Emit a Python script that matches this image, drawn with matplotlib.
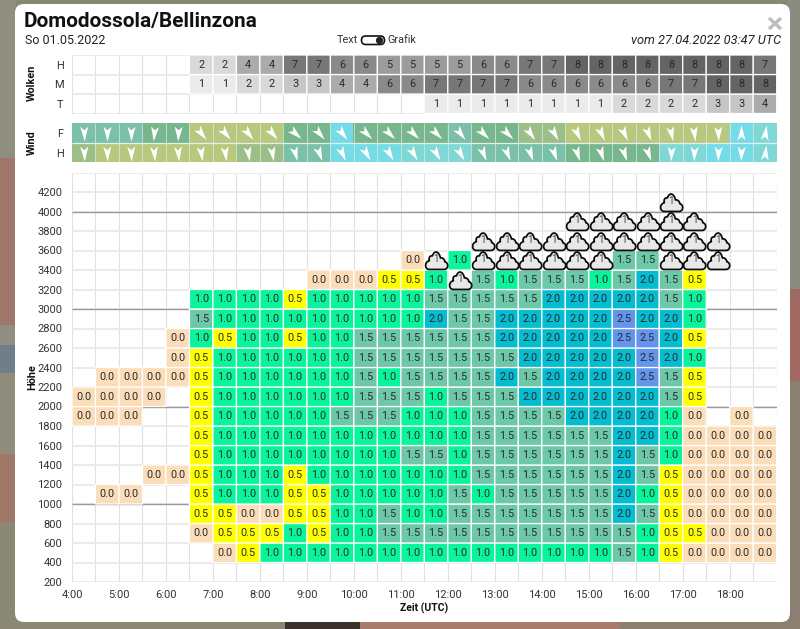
import numpy as np
import matplotlib
matplotlib.use("Agg")
import matplotlib.pyplot as plt
from matplotlib.colors import ListedColormap, BoundaryNorm
from matplotlib.markers import MarkerStyle
from matplotlib.patches import FancyBboxPatch, Rectangle
from matplotlib.path import Path
from matplotlib.lines import Line2D
from matplotlib.transforms import Affine2D

plt.rcParams['font.family'] = ['Roboto', 'DejaVu Sans']

B = np.nan   # empty cell
C = -1.0     # cloud symbol

hours = [f"{h}:00" for h in range(4, 19)]
heights = list(range(200, 4201, 200))

# thermal values: one list per height band, named by lower band edge, half-hour columns 4:00..18:30
h4000 = [B]*25 + [C] + [B]*4
h3800 = [B]*21 + [C]*6 + [B]*3
h3600 = [B]*17 + [C]*11 + [B]*2
h3400 = [B]*14 + [0.0, C, 1.0, C, C, C, C, C, C, 1.5, 1.5, C, C, C, B, B]
h3200 = [B]*10 + [0.0, 0.0, 0.0, 0.5, 0.5, 1.0, C, 1.5, 1.0, 1.5, 1.5, 1.5, 1.0, 1.5, 2.0, 1.5, 0.5, B, B, B]
h3000 = [B]*5 + [1.0, 1.0, 1.0, 1.0, 0.5, 1.0, 1.0, 1.0, 1.0, 1.0, 1.5, 1.5, 1.5, 1.5, 1.5, 2.0, 2.0, 2.0, 2.0, 2.0, 1.5, 1.0, B, B, B]
h2800 = [B]*5 + [1.5, 1.0, 1.0, 1.0, 1.0, 1.0, 1.0, 1.0, 1.0, 1.0, 2.0, 1.5, 1.5, 2.0, 2.0, 2.0, 2.0, 2.0, 2.5, 2.0, 2.0, 1.0, B, B, B]
h2600 = [B]*4 + [0.0, 1.0, 0.5, 1.0, 1.0, 0.5, 1.0, 1.0, 1.5, 1.5, 1.5, 1.5, 1.5, 1.5, 2.0, 2.0, 2.0, 2.0, 2.0, 2.5, 2.5, 2.0, 0.5, B, B, B]
h2400 = [B]*4 + [0.0, 0.5, 1.0, 1.0, 1.0, 1.0, 1.0, 1.0, 1.5, 1.5, 1.5, 1.5, 1.5, 1.5, 1.5, 2.0, 2.0, 2.0, 2.0, 2.0, 2.5, 2.0, 1.0, B, B, B]
h2200 = [B] + [0.0]*4 + [0.5, 1.0, 1.0, 1.0, 1.0, 1.0, 1.0, 1.5, 1.0, 1.5, 1.5, 1.5, 1.5, 2.0, 1.5, 2.0, 2.0, 2.0, 2.0, 2.5, 1.5, 0.5, B, B, B]
h2000 = [0.0]*4 + [B, 0.5, 1.0, 1.0, 1.0, 1.0, 1.0, 1.0, 1.5, 1.5, 1.5, 1.0, 1.5, 1.5, 1.5, 2.0, 2.0, 2.0, 2.0, 2.0, 2.0, 1.5, 0.5, B, B, B]
h1800 = [0.0]*3 + [B, B, 0.5, 1.0, 1.0, 1.0, 1.0, 1.0, 1.5, 1.5, 1.5, 1.0, 1.0, 1.0, 1.5, 1.5, 1.5, 1.5, 2.0, 2.0, 2.0, 2.0, 1.0, 0.0, B, 0.0, B]
h1600 = [B]*5 + [0.5, 1.0, 1.0, 1.0, 1.0, 1.0, 1.0, 1.0, 1.0, 1.0, 1.0, 1.0, 1.5, 1.5, 1.5, 1.5, 1.5, 1.5, 2.0, 2.0, 1.0, 0.0, 0.0, 0.0, 0.0]
h1400 = [B]*5 + [0.5, 1.0, 1.0, 1.0, 1.0, 1.0, 1.0, 1.0, 1.0, 1.5, 1.5, 1.0, 1.5, 1.5, 1.5, 1.5, 1.5, 1.5, 2.0, 1.5, 1.0, 0.0, 0.0, 0.0, 0.0]
h1200 = [B]*3 + [0.0, 0.0, 0.5, 1.0, 1.0, 1.0, 0.5, 1.0, 1.0, 1.0, 1.0, 1.0, 1.0, 1.0, 1.5, 1.5, 1.5, 1.5, 1.5, 1.5, 2.0, 1.5, 0.5, 0.0, 0.0, 0.0, 0.0]
h1000 = [B, 0.0, 0.0, B, B, 0.5, 1.0, 1.0, 1.0, 0.5, 0.5, 1.0, 1.0, 1.0, 1.0, 1.0, 1.5, 1.0, 1.5, 1.5, 1.5, 1.5, 1.5, 2.0, 1.0, 0.5, 0.0, 0.0, 0.0, 0.0]
h800 = [B]*5 + [0.5, 0.5, 0.0, 0.0, 0.5, 0.5, 1.0, 1.0, 1.5, 1.0, 1.0, 1.5, 1.5, 1.5, 1.5, 1.5, 1.5, 1.5, 2.0, 1.5, 0.5, 0.0, 0.0, 0.0, 0.0]
h600 = [B]*5 + [0.0, 0.5, 0.5, 0.5, 1.0, 0.5, 1.0, 1.0, 1.5, 1.5, 1.5, 1.5, 1.5, 1.5, 1.5, 1.5, 1.5, 1.5, 1.5, 1.0, 0.5, 0.5, 0.0, 0.0, 0.0]
h400 = [B]*6 + [0.0, 0.5] + [1.0]*15 + [1.5, 1.0, 0.5, 0.0, 0.0, 0.0, 0.0]

# cloud cover (octas)
cloud_h = [B]*5 + [2, 2, 4, 4, 7, 7, 6, 6, 5, 5, 5, 5, 6, 6, 7, 7, 8, 8, 8, 8, 8, 8, 8, 8, 7]
cloud_m = [B]*5 + [1, 1, 2, 2, 3, 3, 4, 4, 6, 6, 7, 7, 7, 7, 6, 6, 6, 6, 6, 6, 7, 7, 8, 8, 8]
cloud_t = [B]*15 + [1, 1, 1, 1, 1, 1, 1, 1, 2, 2, 2, 2, 3, 3, 4]

# wind: speed class and the bearing the arrow points to
wind_f_class = [2, 2, 2, 3, 3, 5, 5, 5, 5, 3, 3, 0, 3, 3, 3, 3, 2, 3, 3, 4, 4, 5, 5, 5, 5, 5, 5, 5, 0, 1]
wind_h_class = [4, 5, 5, 5, 5, 5, 5, 4, 4, 2, 2, 0, 0, 0, 1, 1, 1, 2, 2, 2, 2, 3, 3, 3, 3, 1, 1, 0, 0, 1]
wind_f_dir = [178, 180, 180, 185, 182, 142, 140, 142, 140, 132, 140, 142, 135, 135, 135, 135, 142, 135, 135, 145, 150, 155, 155, 155, 158, 168, 172, 178, 0, 8]
wind_h_dir = [178, 178, 178, 175, 175, 172, 172, 170, 170, 165, 160, 155, 150, 150, 150, 150, 150, 158, 158, 160, 160, 162, 162, 162, 160, 182, 182, 182, 182, 6]

value_colors = ['#fbddb9', '#ffff00', '#0af59b', '#6cc8a8', '#05bdd0', '#6495ed']
wind_colors = ['#75dbe6', '#7fd8d6', '#7bc0a8', '#78b68e', '#9cbf88', '#b8c97f']
gray_colors = ['#ebebeb', '#d9d9d9', '#c6c6c6', '#ababab', '#9c9c9c', '#8a8a8a', '#777777', '#646464']

W, H = 800, 629
fig = plt.figure(figsize=(W/100, H/100), dpi=100, facecolor='#8b8775')

def rect(x0, y0, x1, y1):
    return [x0/W, 1-y1/H, (x1-x0)/W, (y1-y0)/H]

# map backdrop around the dialog
bg = fig.add_axes([0, 0, 1, 1], zorder=-5)
bg.set_xlim(0, W); bg.set_ylim(H, 0); bg.axis('off')
for x0, y0, x1, y1, c in [(0, 0, 16, 158, '#8f8f80'), (0, 158, 16, 325, '#a0766a'), (0, 325, 16, 345, '#8f8f80'),
                          (0, 345, 16, 373, '#6f7e88'), (0, 373, 16, 454, '#8f8c7c'), (0, 454, 16, 522, '#a0786a'),
                          (0, 522, 16, 629, '#8a8775'), (788, 0, 800, 289, '#8b8b80'), (788, 289, 800, 381, '#a06a62'),
                          (788, 381, 800, 629, '#8b7f72'), (16, 622, 285, 629, '#8a8775'), (285, 622, 360, 629, '#3a302c'),
                          (360, 622, 620, 629, '#a87a6c'), (620, 622, 788, 629, '#8b7f72')]:
    bg.add_patch(Rectangle((x0, y0), x1-x0, y1-y0, fc=c, ec='none'))
bg.add_patch(FancyBboxPatch((23, 12), 759, 602, boxstyle='round,pad=8,rounding_size=9', fc='white', ec='none'))

# title block
def ftext(x, y, s, **kw):
    kw.setdefault('va', 'center'); kw.setdefault('color', '#222222')
    bg.text(x, y, s, **kw)

ftext(24, 21, 'Domodossola/Bellinzona', fontsize=14.95, fontweight='bold', ha='left', color='#111111')
ftext(25, 40, 'So 01.05.2022', fontsize=9.0, ha='left')
ftext(781, 40, 'vom 27.04.2022 03:47 UTC', fontsize=9.2, style='italic', ha='right')
ftext(347, 40, 'Text', fontsize=7.8, ha='center', color='#333333')
ftext(402, 40, 'Grafik', fontsize=7.8, ha='center', color='#333333')
bg.add_patch(FancyBboxPatch((361.5, 36), 23, 8.5, boxstyle='round,pad=0,rounding_size=4.2', fc='white', ec='#111111', lw=1.2))
bg.plot([379], [40.2], 'o', ms=4.2, color='#222222')
for xs, ys in [([769, 781], [18, 29]), ([781, 769], [18, 29])]:
    bg.add_line(Line2D(xs, ys, color='#bdbdbd', lw=2.4, solid_capstyle='butt'))
ftext(32, 83, 'Wolken', fontsize=7.8, fontweight='bold', rotation=90, ha='center', color='#111111')
ftext(32, 143, 'Wind', fontsize=7.8, fontweight='bold', rotation=90, ha='center', color='#111111')

X_EDGES = 4 + 0.5*np.arange(31)
X_CENT = X_EDGES[:-1] + 0.25
L, R = 72, 776.7
GRID = '#e8e8e8'

def setup(ax):
    ax.set_xlim(4, 19)
    for s in ax.spines.values():
        s.set_visible(False)
    ax.tick_params(length=0)
    ax.set_facecolor('none')
    ax.vlines(X_EDGES, *ax.get_ylim(), color='#e0e0e0', lw=0.8, zorder=0)

# clouds
ax_c = fig.add_axes(rect(L, 55, R, 113.5))
ax_c.set_ylim(0, 3)
setup(ax_c)
ax_c.hlines([0, 1, 2, 3], 4, 19, color=GRID, lw=1.2, zorder=0)
cloud = np.array([cloud_t, cloud_m, cloud_h], dtype=float)
ax_c.pcolor(X_EDGES, [0, 1, 2, 3], np.ma.masked_invalid(cloud), cmap=ListedColormap(gray_colors),
            norm=BoundaryNorm(np.arange(0.5, 9), 8), edgecolors='white', linewidth=0.9, zorder=1)
for r in range(3):
    for c in range(30):
        if not np.isnan(cloud[r, c]):
            ax_c.text(X_CENT[c], r+0.5, f"{int(cloud[r, c])}", ha='center', va='center', fontsize=7.8, color='#2a2a2a', zorder=3)
ax_c.set_yticks([0.5, 1.5, 2.5], ['T', 'M', 'H'], fontsize=8, color='#333333')
ax_c.tick_params(axis='y', pad=6)
ax_c.set_xticks([])

# wind
ax_w = fig.add_axes(rect(L, 123.3, R, 162.3))
ax_w.set_ylim(0, 2)
setup(ax_w)
wind = np.array([wind_h_class, wind_f_class], dtype=float)
ax_w.pcolor(X_EDGES, [0, 1, 2], wind, cmap=ListedColormap(wind_colors),
            norm=BoundaryNorm(np.arange(-0.5, 6), 6), edgecolors='none', zorder=1)
ax_w.vlines(X_EDGES[1:-1], 0, 2, color='#d8ede6', lw=0.5, zorder=2)
ax_w.hlines([1], 4, 19, color='#e2f2ea', lw=0.9, zorder=2)
dart = Path([(0, 1), (0.5, -0.85), (0, -0.4), (-0.5, -0.85), (0, 1)],
            [Path.MOVETO, Path.LINETO, Path.LINETO, Path.LINETO, Path.CLOSEPOLY])
for r, dirs in [(1.5, wind_f_dir), (0.5, wind_h_dir)]:
    for c, d in enumerate(dirs):
        m = MarkerStyle(dart, transform=Affine2D().rotate_deg(-d))
        ax_w.plot([X_CENT[c]], [r], marker=m, ms=11.5, color='white', mec='none', ls='none', zorder=3)
ax_w.set_yticks([0.5, 1.5], ['H', 'F'], fontsize=8, color='#333333')
ax_w.tick_params(axis='y', pad=6)
ax_w.set_xticks([])

# main thermal grid
ax = fig.add_axes(rect(L, 172.5, R, 582))
ax.set_ylim(200, 4400)
setup(ax)
y_edges = np.arange(200, 4401, 200)
ax.hlines(y_edges, 4, 19, color=GRID, lw=1.2, zorder=0)
ax.hlines([1000, 2000, 3000, 4000], 4, 19, color='#9a9a9a', lw=1.0, zorder=0.5)
rows = [h400, h600, h800, h1000, h1200, h1400, h1600, h1800, h2000, h2200, h2400, h2600, h2800, h3000, h3200, h3400, h3600, h3800, h4000]
vals = np.array(rows, dtype=float)
mesh_vals = np.where(vals < 0, np.nan, vals)
ax.pcolor(X_EDGES, np.arange(400, 4201, 200), np.ma.masked_invalid(mesh_vals), cmap=ListedColormap(value_colors),
          norm=BoundaryNorm(np.arange(-0.25, 3.0, 0.5), 6), edgecolors='white', linewidth=0.9, zorder=1)
cloud_shape = Path(
    [(-0.62, -0.78), (0.66, -0.78),
     (1.02, -0.78), (1.12, -0.22), (0.72, -0.10),
     (0.72, 0.12), (0.48, 0.28), (0.34, 0.22),
     (0.24, 0.80), (-0.18, 0.94), (-0.36, 0.40),
     (-0.56, 0.46), (-0.72, 0.22), (-0.62, -0.02),
     (-1.06, -0.10), (-1.06, -0.78), (-0.62, -0.78), (-0.62, -0.78)],
    [Path.MOVETO, Path.LINETO] + [Path.CURVE4]*15 + [Path.CLOSEPOLY])
for r, band in enumerate(rows):
    yc = 500 + 200*r
    for c, v in enumerate(band):
        if np.isnan(v):
            continue
        if v < 0:
            ax.plot([X_CENT[c]], [yc], marker=cloud_shape, ms=18.5, mfc='#e8e8e8', mec='#0a0a0a', mew=1.25, ls='none', zorder=4, clip_on=False)
            ax.text(X_CENT[c], yc+8, '1', ha='center', va='center', fontsize=7, color='#444444', zorder=5)
        else:
            ax.text(X_CENT[c], yc, f"{v:.1f}", ha='center', va='center', fontsize=7.8, color='#2a2a2a', zorder=3)
ax.set_xticks(np.arange(4, 19), hours, fontsize=8, color='#333333')
ax.set_yticks(heights, [str(h) for h in heights], fontsize=8, color='#333333')
ax.tick_params(axis='x', pad=6)
ax.tick_params(axis='y', pad=7)
ftext(32, 377, 'Höhe', fontsize=7.8, fontweight='bold', rotation=90, ha='center', color='#111111')
ftext(424, 608, 'Zeit (UTC)', fontsize=7.5, fontweight='bold', ha='center', color='#111111')

fig.savefig('out.png', dpi=100, facecolor=fig.get_facecolor())
